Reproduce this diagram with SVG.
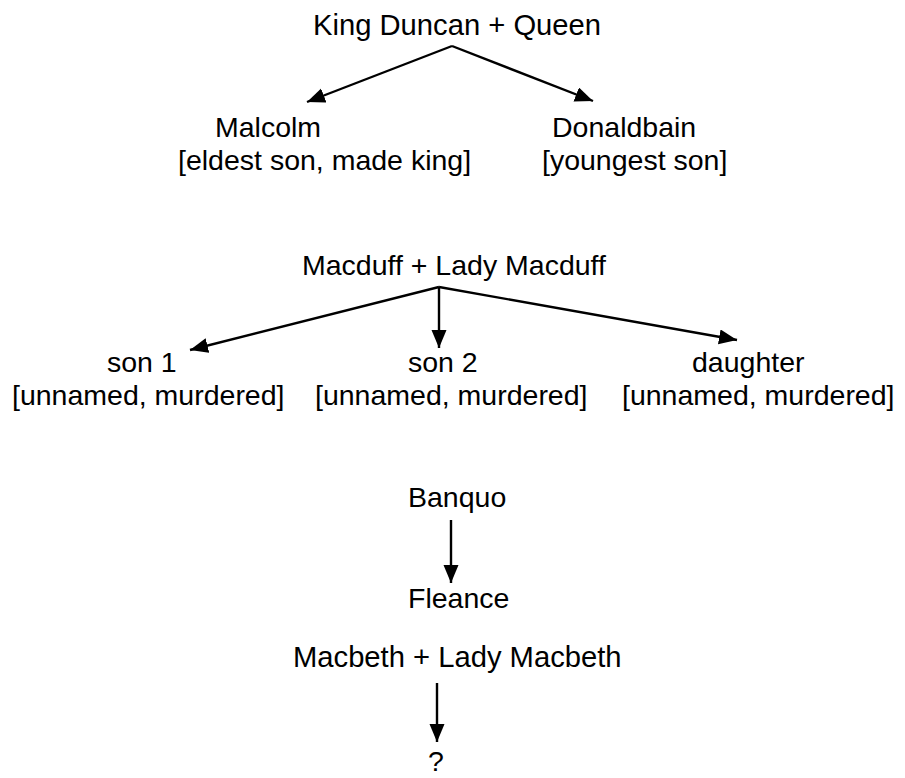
<svg xmlns="http://www.w3.org/2000/svg" width="905" height="778" viewBox="0 0 905 778">
<style>
text{font-family:"Liberation Sans",Arial,sans-serif;font-size:28.5px;fill:#000}
.big{font-size:29.2px}
.c{stroke:#000;stroke-width:2.4;fill:none}
</style>
<defs>
<marker id="ah" markerUnits="userSpaceOnUse" markerWidth="19" markerHeight="16" refX="18" refY="7.5" orient="auto">
<path d="M0,0 L18,7.5 L0,15 z" fill="#000"/>
</marker>
</defs>
<rect width="905" height="778" fill="#fff"/>
<g id="connectors">
<line class="c" x1="452" y1="46" x2="307" y2="102" marker-end="url(#ah)"/>
<line class="c" x1="452" y1="46" x2="593" y2="101" marker-end="url(#ah)"/>
<line class="c" x1="439" y1="287" x2="190" y2="350" marker-end="url(#ah)"/>
<line class="c" x1="439" y1="287" x2="439" y2="348" marker-end="url(#ah)"/>
<line class="c" x1="439" y1="287" x2="737" y2="340" marker-end="url(#ah)"/>
<line class="c" x1="451" y1="520" x2="451" y2="583" marker-end="url(#ah)"/>
<line class="c" x1="437" y1="683" x2="437" y2="742" marker-end="url(#ah)"/>
</g>
<g id="duncan"><text class="big" x="313" y="35">King Duncan + Queen</text></g>
<g id="malcolm"><text x="215" y="137">Malcolm</text><text x="178" y="170">[eldest son, made king]</text></g>
<g id="donaldbain"><text x="552" y="137">Donaldbain</text><text x="542" y="170">[youngest son]</text></g>
<g id="macduff"><text x="302" y="275">Macduff + Lady Macduff</text></g>
<g id="son1"><text x="107" y="372">son 1</text><text x="12" y="405">[unnamed, murdered]</text></g>
<g id="son2"><text x="408" y="372">son 2</text><text x="315" y="405">[unnamed, murdered]</text></g>
<g id="daughter"><text x="692" y="372">daughter</text><text x="622" y="405">[unnamed, murdered]</text></g>
<g id="banquo"><text x="408" y="507">Banquo</text></g>
<g id="fleance"><text x="408" y="608">Fleance</text></g>
<g id="macbeth"><text class="big" x="293" y="667">Macbeth + Lady Macbeth</text></g>
<g id="unknown"><text x="428" y="771">?</text></g>
</svg>
